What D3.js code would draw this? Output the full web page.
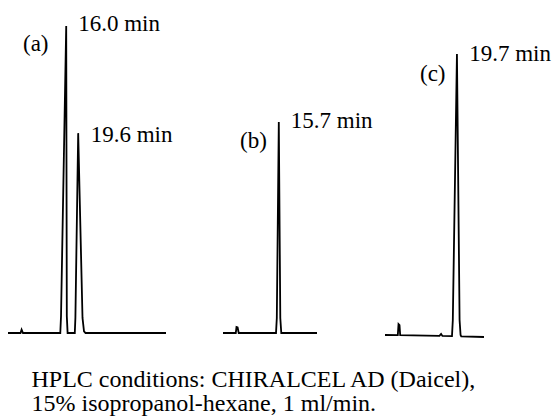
<!DOCTYPE html>
<html>
<head>
<meta charset="utf-8">
<script src="https://cdn.jsdelivr.net/npm/d3@7"></script>
<style>
  html, body { margin: 0; padding: 0; background: #fff; }
  svg { display: block; }
</style>
</head>
<body>
<svg id="chart" width="557" height="416"></svg>
<script>
// ---------- data (time in min, detector signal in % of tallest peak) ----------
const panelNames = ["(a)", "(b)", "(c)"];

const timeA   = [-1.5, 2.26, 2.59, 3.01, 14.22, 14.44, 16.0, 16.18, 16.42, 18.58, 18.76, 19.6, 20.9, 21.35, 21.8, 46];
const signalA = [0, 0, 1.1, 0, 0, 5.5, 100, 5.5, 0, 0, 4.9, 65.1, 4.9, 0.5, 0, 0];

const timeB   = [-1.1, 2.75, 2.96, 3.3, 3.63, 14.86, 15.1, 15.7, 16.15, 16.45, 27.2];
const signalB = [0, 0, 1.95, 1.8, 0, 0, 4.9, 68.7, 4.9, 0, 0];

const timeC   = [-2.1, 1.78, 2.0, 2.3, 2.5, 14.4, 14.9, 15.3, 18.2, 18.45, 19.7, 20.5, 20.8, 21.0, 27.9];
const signalC = [-0.65, -0.7, 2.93, 2.6, -0.7, -0.95, -0.33, -0.95, -1.0, 4.2, 90.9, 4.2, -0.65, -1.1, -1.3];

const peakTimes  = [[16.0, 19.6], [15.7], [19.7]];
const peakLabels = [["16.0 min", "19.6 min"], ["15.7 min"], ["19.7 min"]];

const captionLines = [
  "HPLC conditions: CHIRALCEL AD (Daicel),",
  "15% isopropanol-hexane, 1 ml/min."
];

// ---------- layout ----------
const FONT = "'Liberation Serif', 'Times New Roman', Times, serif";
const svg = d3.select("#chart");
const y = d3.scaleLinear().domain([0, 100]).range([333, 26]);

const traces = [
  { t: timeA, s: signalA, range: [8, 166],   name: [23, 51],  lab: [[12, 5], [12.5, 8.5]] },
  { t: timeB, s: signalB, range: [223, 317], name: [240, 147.5], lab: [[12, 6]] },
  { t: timeC, s: signalC, range: [385, 484], name: [420, 81], lab: [[12.3, 7.5]] }
];

const line = d3.line().curve(d3.curveLinear);

traces.forEach((tr, i) => {
  const x = d3.scaleLinear().domain(d3.extent(tr.t)).range(tr.range);
  const pts = tr.t.map((t, k) => [x(t), y(tr.s[k])]);
  svg.append("path")
    .attr("d", line(pts))
    .attr("fill", "none")
    .attr("stroke", "#000")
    .attr("stroke-width", 1.8)
    .attr("stroke-linejoin", "miter")
    .attr("stroke-miterlimit", 30);

  svg.append("text")
    .attr("x", tr.name[0]).attr("y", tr.name[1])
    .attr("font-family", FONT)
    .attr("font-size", 23)
    .attr("fill", "#000")
    .text(panelNames[i]);

  peakTimes[i].forEach((pt, j) => {
    const k = tr.t.indexOf(pt);
    svg.append("text")
      .attr("x", x(pt) + tr.lab[j][0])
      .attr("y", y(tr.s[k]) + tr.lab[j][1])
      .attr("font-family", FONT)
      .attr("font-size", 23)
      .attr("fill", "#000")
      .text(peakLabels[i][j]);
  });
});

svg.selectAll("text.caption")
  .data(captionLines)
  .enter().append("text")
  .attr("class", "caption")
  .attr("x", 31.5)
  .attr("y", (d, i) => 386.5 + i * 24)
  .attr("font-family", FONT)
  .attr("font-size", 24)
  .attr("fill", "#000")
  .text(d => d);
</script>
</body>
</html>
